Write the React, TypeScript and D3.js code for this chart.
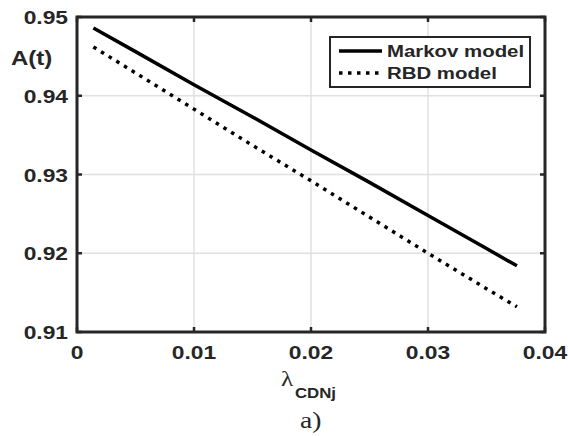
import React from 'react';
import * as d3 from 'd3';

const lambdaValues = [0.0014, 0.005, 0.01, 0.015, 0.02, 0.025, 0.03, 0.035, 0.0376];
const markovValues = [0.9486, 0.9456, 0.9414, 0.9373, 0.9331, 0.9290, 0.9248, 0.9206, 0.9184];
const rbdValues = [0.9462, 0.9429, 0.9383, 0.9337, 0.9292, 0.9246, 0.9200, 0.9155, 0.9132];
const xTicks = [0, 0.01, 0.02, 0.03, 0.04];
const yTicks = [0.91, 0.92, 0.93, 0.94, 0.95];
const seriesNames = ['Markov model', 'RBD model'];

const W = 568;
const H = 436;
const left = 77;
const right = 545;
const top = 17;
const bottom = 332;
const SX = 1.2; // picture is stretched sideways
const SANS = '"Liberation Sans", Arial, Helvetica, sans-serif';
const SERIF = '"Liberation Serif", "Times New Roman", serif';
const AXIS = '#262626';

const Txt = ({ x, y, size, anchor = 'start', family = SANS, weight = 'bold', children }: any) => (
  <text
    transform={`translate(${x},${y}) scale(${SX},1)`}
    fontFamily={family}
    fontWeight={weight}
    fontSize={size}
    textAnchor={anchor}
    fill="#262626"
  >
    {children}
  </text>
);

const App = () => {
  const x = d3.scaleLinear().domain([0, 0.04]).range([left, right]);
  const y = d3.scaleLinear().domain([0.91, 0.95]).range([bottom, top]);

  const line = d3.line<number>()
    .x((d, i) => x(lambdaValues[i]))
    .y(d => y(d));

  const tick = 5;

  return (
    <div style={{ position: 'absolute', left: 0, top: 0 }}>
      <svg width={W} height={H} style={{ display: 'block', background: '#fff' }}>
        {/* grid */}
        {xTicks.slice(1, -1).map(t => (
          <line key={'gx' + t} x1={x(t)} x2={x(t)} y1={top} y2={bottom} stroke="#e0e0e0" strokeWidth={1.5} />
        ))}
        {yTicks.slice(1, -1).map(t => (
          <line key={'gy' + t} x1={left} x2={right} y1={y(t)} y2={y(t)} stroke="#e0e0e0" strokeWidth={1.5} />
        ))}

        {/* series */}
        <path d={line(markovValues) || ''} fill="none" stroke="#000" strokeWidth={3.5} />
        <path d={line(rbdValues) || ''} fill="none" stroke="#000" strokeWidth={3.5} strokeDasharray="3.5 5.5" />

        {/* ticks, inward on all sides */}
        {xTicks.map(t => (
          <g key={'tx' + t}>
            <line x1={x(t)} x2={x(t)} y1={bottom} y2={bottom - tick} stroke={AXIS} strokeWidth={2.5} />
            <line x1={x(t)} x2={x(t)} y1={top} y2={top + tick} stroke={AXIS} strokeWidth={2.5} />
            <Txt x={x(t)} y={359} size={19} anchor="middle">{t === 0 ? '0' : d3.format('.2f')(t)}</Txt>
          </g>
        ))}
        {yTicks.map(t => (
          <g key={'ty' + t}>
            <line x1={left} x2={left + tick} y1={y(t)} y2={y(t)} stroke={AXIS} strokeWidth={2.5} />
            <line x1={right} x2={right - tick} y1={y(t)} y2={y(t)} stroke={AXIS} strokeWidth={2.5} />
            <Txt x={68} y={y(t) + 7} size={19} anchor="end">{d3.format('.2f')(t)}</Txt>
          </g>
        ))}

        {/* box */}
        <rect x={left} y={top} width={right - left} height={bottom - top} fill="none" stroke={AXIS} strokeWidth={3} />

        {/* axis labels */}
        <Txt x={11} y={65} size={20}>A(t)</Txt>
        <Txt x={281} y={386} size={21} family={SERIF} weight="normal">λ</Txt>
        <Txt x={295} y={398} size={14}>CDNj</Txt>
        <Txt x={300} y={428} size={23} family={SERIF} weight="normal">a)</Txt>

        {/* legend */}
        <rect x={330} y={37} width={200} height={50} fill="#fff" stroke={AXIS} strokeWidth={2} />
        <line x1={339} x2={382} y1={51} y2={51} stroke="#000" strokeWidth={3.5} />
        <line x1={339} x2={382} y1={73} y2={73} stroke="#000" strokeWidth={3.5} strokeDasharray="3.5 5.5" />
        <Txt x={387} y={57} size={17}>{seriesNames[0]}</Txt>
        <Txt x={387} y={79} size={17}>{seriesNames[1]}</Txt>
      </svg>
    </div>
  );
};

export default App;
